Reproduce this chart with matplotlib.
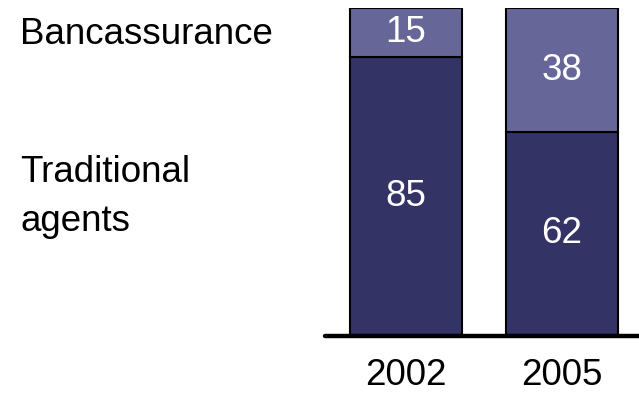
import numpy as np
import matplotlib.pyplot as plt

plt.rcParams['font.family'] = ['Liberation Sans', 'DejaVu Sans']

years = ['2002', '2005']
traditional = [85, 62]
bancassurance = [15, 38]

dark = '#333366'
light = '#666699'
fs = 26.5

fig = plt.figure(figsize=(6.39, 3.94), dpi=100)
ax = fig.add_axes([325 / 639, 59 / 394, 314 / 639, 327 / 394])

x = np.arange(len(years))
w = 0.718
ax.bar(x, traditional, w, color=dark, edgecolor='black', linewidth=1.5)
ax.bar(x, bancassurance, w, bottom=traditional, color=light,
       edgecolor='black', linewidth=1.5)

# values in the middle of each segment
for i in range(len(years)):
    ax.text(x[i], traditional[i] / 2, str(traditional[i]), color='white',
            ha='center', va='center', fontsize=fs)
    ax.text(x[i], traditional[i] + bancassurance[i] / 2, str(bancassurance[i]),
            color='white', ha='center', va='center', fontsize=fs)
    ax.text(x[i], -12.5, years[i], ha='center', va='center', fontsize=fs)

ax.set_xlim(-0.519, 1.494)
ax.set_ylim(0, 100)
ax.axhline(-0.3, color='black', linewidth=3.2, solid_capstyle='round', clip_on=False)
ax.axis('off')

# series names on the left
fig.text(20 / 639, 1 - 35 / 394, 'Bancassurance', ha='left', va='center', fontsize=fs)
fig.text(20 / 639, 1 - 197 / 394, 'Traditional\nagents', ha='left', va='center',
         fontsize=fs, linespacing=1.55)

fig.savefig('out.png', dpi=100)
